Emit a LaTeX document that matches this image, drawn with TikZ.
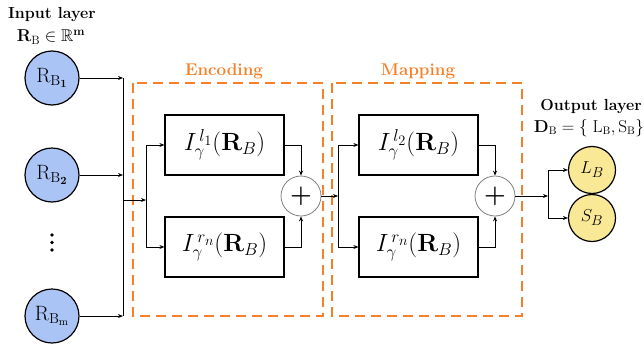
\documentclass[tikz,border=0pt]{standalone}
\usepackage{amsmath,amssymb}
\usetikzlibrary{arrows.meta}
\definecolor{inblue}{RGB}{170,196,245}
\definecolor{outyel}{RGB}{249,233,150}
\definecolor{orng}{RGB}{245,128,40}
\begin{document}
\begin{tikzpicture}[x=1pt,y=-1pt,
  incirc/.style={circle,draw,line width=1.2pt,fill=inblue,minimum size=54pt,inner sep=0pt,font=\fontsize{22}{24}\selectfont},
  outcirc/.style={circle,draw,line width=1.2pt,fill=outyel,minimum size=47pt,inner sep=0pt,font=\fontsize{19}{21}\selectfont},
  fbox/.style={rectangle,draw,line width=1.2pt,minimum width=119pt,minimum height=60pt,inner sep=0pt,font=\fontsize{27}{29}\selectfont},
  plusc/.style={circle,draw=gray,line width=0.8pt,fill=white,minimum size=40pt,inner sep=0pt,font=\fontsize{32}{34}\selectfont},
  arr/.style={-{Stealth[length=5pt,width=4pt]},line width=0.9pt},
  wire/.style={line width=0.9pt},
  dbox/.style={draw=orng,line width=2.4pt,dash pattern=on 10pt off 6pt},
  olabel/.style={text=orng,font=\fontsize{17}{19}\selectfont\bfseries},
  title/.style={font=\fontsize{16}{18}\selectfont\bfseries},
  formula/.style={font=\fontsize{17}{19}\selectfont}]
\useasboundingbox (0,0) rectangle (644,348);

% titles
\node[title] (tin) at (52,15) {Input layer};
\node[formula] (fin) at (51,37) {$\mathbf{R}_{\mathrm{B}}\in\mathbb{R}^{\mathbf{m}}$};
\node[title] (tout) at (591,107) {Output layer};
\node[formula,font=\fontsize{16}{18}\selectfont] (fout) at (589,128) {$\mathbf{D}_{\mathrm{B}}=\{\;\mathrm{L}_{\mathrm{B}},\mathrm{S}_{\mathrm{B}}\}$};

% input circles
\node[incirc] (b1) at (52,78) {$\mathrm{R}_{\mathrm{B}_{\mathbf{1}}}$};
\node[incirc] (b2) at (52,175) {$\mathrm{R}_{\mathrm{B}_{\mathbf{2}}}$};
\node[incirc] (bm) at (52,316) {$\mathrm{R}_{\mathrm{B}_{\mathrm{m}}}$};
\fill (52,235) circle (1.8pt) (52,242.5) circle (1.8pt) (52,250) circle (1.8pt);

% input bus
\coordinate (j1) at (123,78);
\coordinate (j2) at (123,175);
\coordinate (jm) at (123,316);
\coordinate (j0) at (123,200);
\draw[arr] (b1) -- (j1);
\draw[arr] (b2) -- (j2);
\draw[arr] (bm) -- (jm);
\draw[wire] (j1) -- (jm);

% dashed boxes
\draw[dbox] (133,83) rectangle (323,316);
\draw[dbox] (332,83) rectangle (522,316);
\node[olabel] (enc) at (224,71) {Encoding};
\node[olabel] (map) at (418,71) {Mapping};

% encoding
\node[fbox] (e1) at (224.5,145) {$I_{\gamma}^{\,l_1}(\mathbf{R}_B)$};
\node[fbox] (e2) at (224.5,247) {$I_{\gamma}^{\,r_n}(\mathbf{R}_B)$};
\node[plusc] (p1) at (301,196) {$\boldsymbol{+}$};
\coordinate (k0) at (146,200);
\coordinate (k1) at (146,145);
\coordinate (k2) at (146,247);
\draw[arr] (j0) -- (k0);
\draw[wire] (k1) -- (k2);
\draw[arr] (k1) -- (e1.west);
\draw[arr] (k2) -- (e2.west);
\draw[arr] (e1.east) -| (p1.north);
\draw[arr] (e2.east) -| (p1.south);

% mapping
\node[fbox] (m1) at (418.5,145) {$I_{\gamma}^{\,l_2}(\mathbf{R}_B)$};
\node[fbox] (m2) at (418.5,247) {$I_{\gamma}^{\,r_n}(\mathbf{R}_B)$};
\node[plusc] (p2) at (495,196) {$\boldsymbol{+}$};
\coordinate (n0) at (338,196);
\coordinate (n1) at (338,145);
\coordinate (n2) at (338,247);
\draw[arr] (p1.east) -- (n0);
\draw[wire] (n1) -- (n2);
\draw[arr] (n1) -- (m1.west);
\draw[arr] (n2) -- (m2.west);
\draw[arr] (m1.east) -| (p2.north);
\draw[arr] (m2.east) -| (p2.south);

% output
\node[outcirc] (lb) at (592,170) {$L_B$};
\node[outcirc] (sb) at (592,218) {$S_B$};
\coordinate (o0) at (548,196);
\coordinate (o1) at (548,170);
\coordinate (o2) at (548,218);
\draw[arr] (p2.east) -- (o0);
\draw[wire] (o1) -- (o2);
\draw[arr] (o1) -- (lb.west);
\draw[arr] (o2) -- (sb.west);
\end{tikzpicture}
\end{document}
